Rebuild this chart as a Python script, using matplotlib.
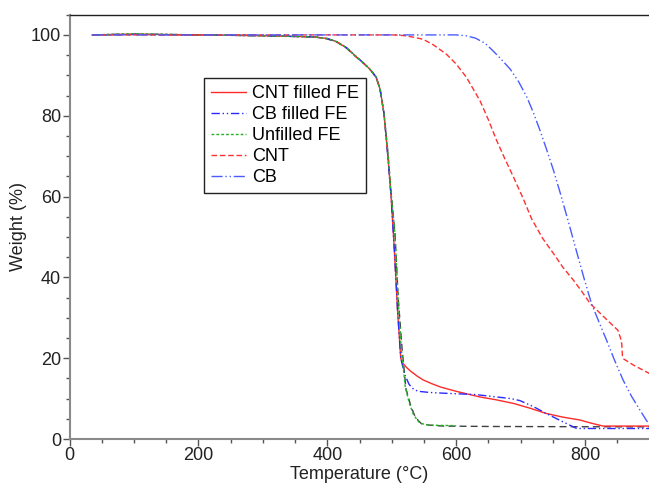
import matplotlib
matplotlib.use("Agg")
import matplotlib.pyplot as plt
from matplotlib.ticker import MultipleLocator

plt.rcParams['font.family'] = ['Liberation Sans', 'DejaVu Sans']

# shared early part of FE samples
T_fe = [35, 100, 200, 300, 380, 400, 415, 430, 445, 458, 468, 476, 482, 488, 494, 499, 504, 509, 514]
W_fe = [100, 100.2, 100, 99.8, 99.5, 99.1, 98.3, 96.8, 94.6, 92.8, 91.2, 89.5, 86.5, 80.5, 70, 60, 47, 32, 20]

cnt_fe_T = T_fe + [516, 523, 530, 540, 549, 562, 575, 600, 637, 662, 689, 715, 740, 766, 792, 810, 828, 900]
cnt_fe_W = W_fe + [19, 17.7, 16.7, 15.5, 14.6, 13.7, 12.9, 11.8, 10.4, 9.7, 8.8, 7.6, 6.3, 5.4, 4.7, 3.9, 3.2, 3.2]

cb_fe_T = T_fe + [520, 527, 534, 541, 560, 585, 630, 663, 685, 699, 720, 740, 765, 787, 900]
cb_fe_W = W_fe + [16, 13.5, 12.3, 11.8, 11.5, 11.3, 11.0, 10.4, 10.0, 9.5, 8.0, 6.3, 4.3, 2.6, 2.6]

unf_T = [35, 100, 200, 300, 380, 400, 415, 430, 445, 458, 468, 476, 482, 488, 494, 499, 505, 510, 515, 521, 527, 533, 539, 544, 555, 566, 600]
unf_W = [100, 100.3, 100, 99.8, 99.5, 99.1, 98.3, 96.8, 94.6, 92.8, 91.2, 89.5, 86.5, 80.5, 71, 61, 50.8, 34.3, 22, 12.9, 9, 6.3, 4.8, 3.9, 3.5, 3.4, 3.3]

blk_T = [35, 100, 200, 300, 380, 400, 415, 430, 445, 458, 468, 476, 482, 488, 494, 499, 505, 510, 516, 522, 529, 535, 541, 546, 560, 580, 650, 900]
blk_W = [100, 100.1, 100, 99.8, 99.5, 99.0, 98.2, 96.7, 94.5, 92.7, 91.1, 89.4, 86.4, 80.5, 71, 61, 51, 35, 22.5, 12.5, 8.5, 6, 4.6, 3.8, 3.4, 3.2, 3.1, 3.0]

cnt_T = [35, 300, 500, 510, 520, 535, 549, 565, 585, 600, 616, 637, 650, 663, 676, 689, 704, 717, 734, 751, 766, 782, 795, 808, 830, 851, 855, 857, 858, 860, 875, 900]
cnt_W = [100, 100, 100, 99.95, 99.8, 99.4, 98.9, 97.5, 95.2, 92.8, 89.5, 83.7, 79, 73.8, 69.2, 64.8, 59.5, 54.5, 49.7, 45.9, 42.4, 39.3, 36.5, 33.5, 30.1, 26.9, 25, 23.5, 20.5, 19.8, 18.3, 16.2]

cb_T = [35, 300, 600, 615, 630, 645, 655, 668, 684, 697, 710, 720, 730, 740, 751, 762, 773, 787, 798, 810, 822, 834, 846, 859, 872, 885, 898, 900]
cb_W = [100, 100, 100, 99.8, 99.2, 97.9, 96.4, 94.3, 91.5, 88.4, 84.5, 80.7, 76.4, 71.8, 66.5, 60.6, 54.4, 46.3, 40.0, 33.5, 28.8, 24.2, 19.4, 14.6, 10.6, 7.2, 3.9, 3.6]

labels = ["CNT filled FE", "CB filled FE", "Unfilled FE", "CNT", "CB"]

fig = plt.figure(figsize=(6.49, 4.86), dpi=100)
ax = fig.add_axes([69.5/649, 47/486, 580/649, (439-14.7)/486])

lw = 1.0
ax.plot(blk_T, blk_W, color='#404040', lw=lw, ls=(0, (5, 3)), label='_nolegend_')
ax.plot(cnt_fe_T, cnt_fe_W, color='#ff2a2a', lw=lw, ls='-', label=labels[0])
ax.plot(cb_fe_T, cb_fe_W, color='#2a2aff', lw=lw, ls=(0, (6, 2, 1, 2, 1, 2)), label=labels[1])
ax.plot(unf_T, unf_W, color='#22b422', lw=lw, ls=(0, (2, 1.5)), label=labels[2])
ax.plot(cnt_T, cnt_W, color='#ff3030', lw=lw, ls=(0, (4, 2)), label=labels[3])
ax.plot(cb_T, cb_W, color='#4a5cff', lw=lw, ls=(0, (8, 2, 1, 2, 1, 2)), label=labels[4])

ax.set_xlim(0, 900)
ax.set_ylim(0, 105)
ax.xaxis.set_major_locator(MultipleLocator(200))
ax.xaxis.set_minor_locator(MultipleLocator(50))
ax.yaxis.set_major_locator(MultipleLocator(20))
ax.yaxis.set_minor_locator(MultipleLocator(5))

for s in ['left', 'bottom']:
    ax.spines[s].set_color('#8a8a8a')
    ax.spines[s].set_linewidth(1.5)
ax.spines['top'].set_color('#222222')
ax.spines['top'].set_linewidth(1.0)
ax.spines['right'].set_visible(False)

ax.tick_params(which='both', direction='out', color='#555555', labelcolor='#222222', labelsize=13)
ax.tick_params(which='major', length=5, width=1)
ax.tick_params(which='minor', length=3, width=1)
ax.tick_params(axis='x', pad=1)
ax.tick_params(axis='y', pad=1)

ax.set_xlabel('Temperature (°C)', fontsize=13, color='#222222', labelpad=1)
ax.set_ylabel('Weight (%)', fontsize=13, color='#222222', labelpad=3)

handles, labs = ax.get_legend_handles_labels()
leg = fig.legend(handles, labs, loc='upper left', bbox_to_anchor=(204/649, 1-78/486),
                 bbox_transform=fig.transFigure, borderaxespad=0, fontsize=13,
                 handlelength=1.9, handletextpad=0.35, labelspacing=0.22,
                 borderpad=0.4, fancybox=False, framealpha=1, edgecolor='#222222')
leg.get_frame().set_linewidth(1.0)

fig.savefig('out.png', dpi=100)
